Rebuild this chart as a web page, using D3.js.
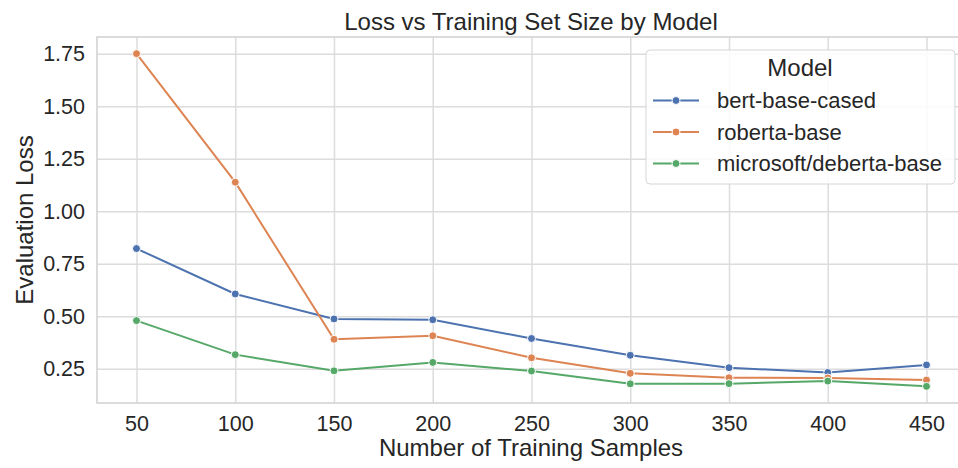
<!DOCTYPE html>
<html lang="en">
<head>
<meta charset="utf-8">
<script src="https://cdn.jsdelivr.net/npm/d3@7"></script>
<style>
  body { margin: 0; background: #fff; }
  text { font-family: "Liberation Sans", Arial, sans-serif; fill: #262626; }
</style>
</head>
<body>
<div id="chart"></div>
<script>
// data
const samples = [50, 100, 150, 200, 250, 300, 350, 400, 450]
const models = ['bert-base-cased', 'roberta-base', 'microsoft/deberta-base']
const bertLoss = [0.822, 0.606, 0.487, 0.483, 0.394, 0.314, 0.255, 0.232, 0.268]
const robertaLoss = [1.75, 1.138, 0.390, 0.407, 0.302, 0.228, 0.207, 0.206, 0.196]
const debertaLoss = [0.479, 0.317, 0.240, 0.280, 0.239, 0.178, 0.179, 0.191, 0.166]
const xTicks = [50, 100, 150, 200, 250, 300, 350, 400, 450]
const yTicks = [0.25, 0.5, 0.75, 1.0, 1.25, 1.5, 1.75]
const colors = ['#4c72b0', '#dd8452', '#55a868']

const series = [bertLoss, robertaLoss, debertaLoss].map(function(vals, i) {
    return {
        name: models[i],
        color: colors[i],
        points: vals.map(function(v, j) { return [samples[j], v] })
    }
})

const w = 958
const h = 468
const m = { top: 37, right: -8, bottom: 65, left: 97 }

const svg = d3.select('#chart')
    .append('svg')
    .attr('width', w)
    .attr('height', h)

// matplotlib-like 5% margins
const allY = [].concat(bertLoss, robertaLoss, debertaLoss)
const xPad = (d3.max(samples) - d3.min(samples)) * 0.05
const yMin = d3.min(allY), yMax = d3.max(allY)
const yPad = (yMax - yMin) * 0.05

const scaleX = d3.scaleLinear()
    .domain([d3.min(samples) - xPad, d3.max(samples) + xPad])
    .range([m.left, w - m.right])

const scaleY = d3.scaleLinear()
    .domain([yMin - yPad, yMax + yPad])
    .range([h - m.bottom, m.top])

// grid
svg.append('g')
    .attr('transform', 'translate(0,' + (h - m.bottom) + ')')
    .call(d3.axisBottom(scaleX).tickValues(xTicks).tickSize(-(h - m.bottom - m.top)).tickFormat(''))
    .call(function(g) { g.select('.domain').remove() })
    .selectAll('line').attr('stroke', '#dcdcdc').attr('stroke-width', 1.5)

svg.append('g')
    .attr('transform', 'translate(' + m.left + ',0)')
    .call(d3.axisLeft(scaleY).tickValues(yTicks).tickSize(-(w - m.left - m.right)).tickFormat(''))
    .call(function(g) { g.select('.domain').remove() })
    .selectAll('line').attr('stroke', '#dcdcdc').attr('stroke-width', 1.5)

// spines
svg.append('rect')
    .attr('x', m.left)
    .attr('y', m.top)
    .attr('width', w - m.left - m.right)
    .attr('height', h - m.top - m.bottom)
    .attr('fill', 'none')
    .attr('stroke', '#d0d0d0')
    .attr('stroke-width', 1.5)

// tick labels
const xAxis = svg.append('g')
    .attr('transform', 'translate(0,' + (h - m.bottom) + ')')
    .call(d3.axisBottom(scaleX).tickValues(xTicks).tickSize(0).tickPadding(13))
xAxis.select('.domain').remove()
xAxis.selectAll('text')
    .style('font-size', '21.5px')
    .attr('fill', '#262626')

const yAxis = svg.append('g')
    .attr('transform', 'translate(' + m.left + ',0)')
    .call(d3.axisLeft(scaleY).tickValues(yTicks).tickSize(0).tickPadding(12).tickFormat(d3.format('.2f')))
yAxis.select('.domain').remove()
yAxis.selectAll('text')
    .style('font-size', '21.5px')
    .attr('fill', '#262626')

// lines and markers
const line = d3.line()
    .x(function(d) { return scaleX(d[0]) })
    .y(function(d) { return scaleY(d[1]) })

const groups = svg.selectAll('g.series')
    .data(series)
    .enter()
    .append('g')
    .attr('class', 'series')

groups.append('path')
    .attr('d', function(d) { return line(d.points) })
    .attr('fill', 'none')
    .attr('stroke', function(d) { return d.color })
    .attr('stroke-width', 2)

groups.selectAll('circle')
    .data(function(d) { return d.points.map(function(p) { return { p: p, color: d.color } }) })
    .enter()
    .append('circle')
    .attr('cx', function(d) { return scaleX(d.p[0]) })
    .attr('cy', function(d) { return scaleY(d.p[1]) })
    .attr('r', 4)
    .attr('fill', function(d) { return d.color })
    .attr('stroke', '#fff')
    .attr('stroke-width', 1)

// title and axis labels
svg.append('text')
    .attr('x', 531)
    .attr('y', 30)
    .attr('text-anchor', 'middle')
    .style('font-size', '24px')
    .text('Loss vs Training Set Size by Model')

svg.append('text')
    .attr('x', 531)
    .attr('y', 456)
    .attr('text-anchor', 'middle')
    .style('font-size', '24px')
    .text('Number of Training Samples')

svg.append('text')
    .attr('transform', 'translate(33,' + ((m.top + h - m.bottom) / 2) + ') rotate(-90)')
    .attr('text-anchor', 'middle')
    .style('font-size', '24px')
    .text('Evaluation Loss')

// legend
const legend = svg.append('g')
legend.append('rect')
    .attr('x', 646)
    .attr('y', 50)
    .attr('width', 309)
    .attr('height', 134)
    .attr('rx', 4)
    .attr('fill', 'rgba(255,255,255,0.85)')
    .attr('stroke', '#d6d6d6')
    .attr('stroke-width', 1)

legend.append('text')
    .attr('x', 800)
    .attr('y', 76)
    .attr('text-anchor', 'middle')
    .style('font-size', '24px')
    .text('Model')

const items = legend.selectAll('g.item')
    .data(series)
    .enter()
    .append('g')
    .attr('class', 'item')
    .attr('transform', function(d, i) { return 'translate(0,' + (100.5 + i * 31.5) + ')' })

items.append('line')
    .attr('x1', 653)
    .attr('x2', 699)
    .attr('stroke', function(d) { return d.color })
    .attr('stroke-width', 2)

items.append('circle')
    .attr('cx', 676)
    .attr('r', 4)
    .attr('fill', function(d) { return d.color })
    .attr('stroke', '#fff')
    .attr('stroke-width', 1)

items.append('text')
    .attr('x', 717)
    .attr('y', 7.5)
    .style('font-size', '22px')
    .text(function(d) { return d.name })
</script>
</body>
</html>
